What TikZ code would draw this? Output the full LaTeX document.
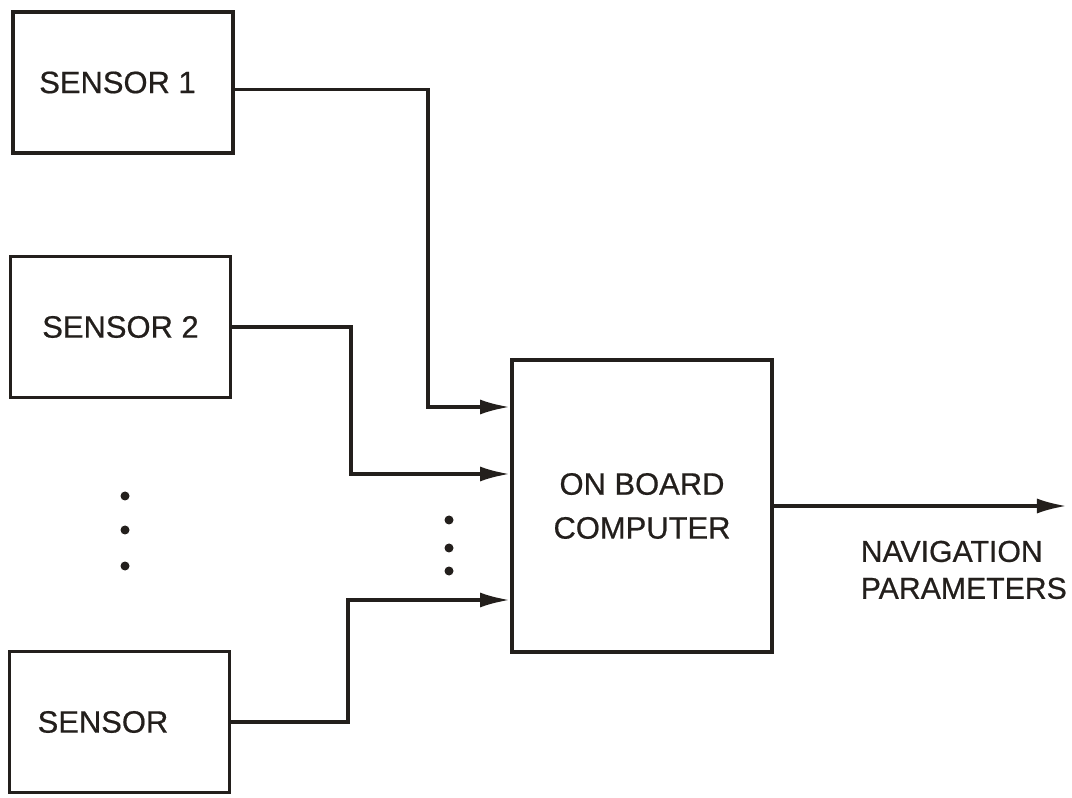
\documentclass[tikz,border=0pt]{standalone}
\usepackage{fontspec}
\setmainfont{Liberation Sans}[FakeBold=0.6]
\usepackage{xcolor}
\usetikzlibrary{arrows.meta,positioning}
\definecolor{inkdark}{HTML}{231F1C}

\begin{document}
\begin{tikzpicture}[
  >={Latex[length=3mm,width=1.5mm]},
  line width=1pt,
  color=inkdark,
  block/.style={rectangle, draw=inkdark, line width=1.1pt, minimum width=2.2cm, minimum height=1.41cm, align=center, font=\fontsize{8.8}{11}\selectfont},
  flow/.style={->, draw=inkdark, line width=1pt},
  dotmark/.style={fill=inkdark}
]
  \useasboundingbox (0,0) rectangle (10.72,7.97);
  \node[block] (s1) at (1.23,7.145) {SENSOR 1\hspace*{0.11cm}};
  \node[block] (s2) at (1.205,4.70) {SENSOR 2};
  \node[block] (sn) at (1.195,0.75) {SENSOR\hspace*{0.33cm}};
  \node[block, minimum width=2.6cm, minimum height=2.92cm, font=\fontsize{8.8}{12.5}\selectfont] (obc) at (6.42,2.91) {ON BOARD\\COMPUTER};
  \coordinate (in1) at ([yshift=0.99cm]obc.west);
  \coordinate (in2) at ([yshift=0.32cm]obc.west);
  \coordinate (in3) at ([yshift=-0.94cm]obc.west);
  \coordinate[right=2.93cm of obc.east] (out);
  \draw[flow] ([yshift=-0.07cm]s1.east) -| ([xshift=-0.82cm]in1) -- (in1);
  \draw[flow] (s2.east) -| ([xshift=-1.59cm]in2) -- (in2);
  \draw[flow] (sn.east) -| ([xshift=-1.62cm]in3) -- (in3);
  \draw[flow] (obc.east) -- (out);
  \node[anchor=north west, align=left, inner sep=0pt, font=\fontsize{8.6}{10.5}\selectfont] (navlbl) at (8.59,2.58) {NAVIGATION\\PARAMETERS};
  % dots for the omitted sensors
  \foreach \y in {3.01,2.67,2.31}
    \fill[dotmark] (1.25,\y) circle (0.045);
  \foreach \y in {2.77,2.49,2.26}
    \fill[dotmark] (4.49,\y) circle (0.045);
\end{tikzpicture}
\end{document}
